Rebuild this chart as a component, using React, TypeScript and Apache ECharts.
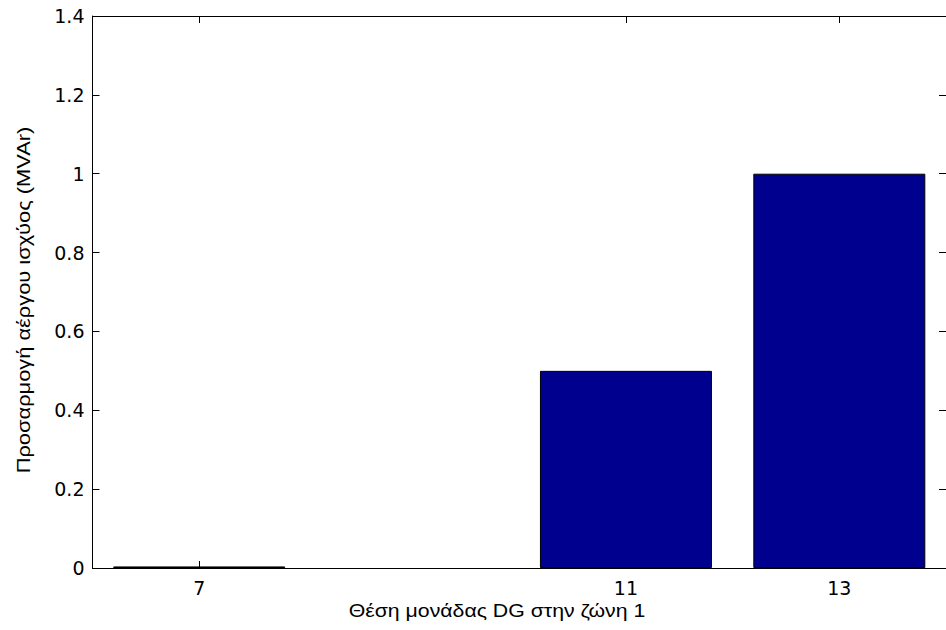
import React, { useEffect, useRef } from "react";
import * as echarts from "echarts";

const positions = [7, 11, 13];
const values = [0.004, 0.5, 1.0];
const xTicks = [7, 11, 13];
const xLabel = "Θέση μονάδας DG στην ζώνη 1";
const yLabel = "Προσαρμογή αέργου ισχύος (MVAr)";

export default function App() {
  const ref = useRef<HTMLDivElement>(null);
  useEffect(() => {
    if (!ref.current) return;
    const chart = echarts.init(ref.current, null, { renderer: "svg" });
    const font = "'Liberation Sans', Arial, sans-serif";
    const tickFont = "'DejaVu Sans', 'Liberation Sans', sans-serif";
    const tick = { show: true, inside: true, length: 7, lineStyle: { color: "#000", width: 1 } };
    const line = { show: true, onZero: false, lineStyle: { color: "#000", width: 1 } };
    chart.setOption({
      animation: false,
      backgroundColor: "#fff",
      grid: { left: 92.5, right: -4, top: 16, bottom: 62, containLabel: false },
      xAxis: [
        {
          type: "value",
          position: "bottom",
          min: 6,
          max: 14,
          axisLine: line,
          splitLine: { show: false },
          axisTick: { ...tick, customValues: xTicks },
          axisLabel: {
            customValues: xTicks,
            color: "#000",
            fontFamily: tickFont,
            fontSize: 19,
            margin: 10,
          },
        },
        {
          type: "value",
          position: "top",
          min: 6,
          max: 14,
          axisLine: line,
          splitLine: { show: false },
          axisTick: { ...tick, customValues: xTicks },
          axisLabel: { show: false, customValues: xTicks },
        },
      ],
      yAxis: [
        {
          type: "value",
          position: "left",
          min: 0,
          max: 1.4,
          interval: 0.2,
          axisLine: line,
          splitLine: { show: false },
          axisTick: tick,
          axisLabel: { color: "#000", fontFamily: tickFont, fontSize: 19, margin: 8 },
        },
        {
          type: "value",
          position: "right",
          min: 0,
          max: 1.4,
          interval: 0.2,
          axisLine: line,
          splitLine: { show: false },
          axisTick: tick,
          axisLabel: { show: false },
        },
      ],
      series: [
        {
          type: "bar",
          xAxisIndex: 0,
          yAxisIndex: 0,
          barWidth: 172,
          data: positions.map((p, i) => [p, values[i]]),
          itemStyle: { color: "#00008F", borderColor: "#000", borderWidth: 1 },
        },
      ],
      graphic: [
        {
          type: "text",
          x: 497,
          y: 610,
          scaleX: 1.12,
          style: {
            text: xLabel,
            fill: "#000",
            font: `19px ${font}`,
            textAlign: "center",
            textVerticalAlign: "middle",
          },
        },
        {
          type: "text",
          x: 23,
          y: 300,
          rotation: Math.PI / 2,
          scaleX: 1.15,
          style: {
            text: yLabel,
            fill: "#000",
            font: `19px ${font}`,
            textAlign: "center",
            textVerticalAlign: "middle",
          },
        },
      ],
    });
    return () => chart.dispose();
  }, []);
  return (
    <div
      ref={ref}
      style={{ position: "fixed", left: 0, top: 0, width: 946, height: 630, background: "#fff" }}
    />
  );
}
